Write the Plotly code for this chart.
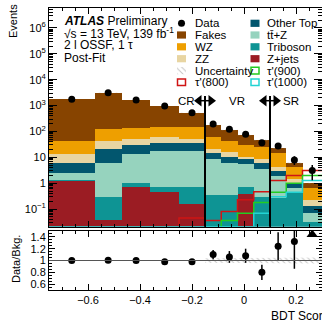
import plotly.graph_objects as go

# ---------------- data ----------------
edges = [-0.75, -0.575, -0.47, -0.36, -0.25, -0.15, -0.0875, -0.025, 0.0375, 0.1, 0.1625, 0.225, 0.30]

zjets     = [1.26, 0.038, 0.70, 0.47, 0.16, 0.005, 0.005, 0.40, 0.010, 0.005, 0.005, 0.005]
triboson  = [0.04, 0.262, 0.30, 0.27, 0.58, 0.345, 0.345, 0.34, 0.29, 0.265, 0.425, 0.028]
ttz       = [1.13, 5.6, 12.5, 17.3, 17.3, 8.15, 5.85, 4.66, 3.2, 1.63, 0.21, 0.036]
other_top = [3.47, 14.7, 15.9, 17.0, 17.0, 5.9, 4.5, 3.1, 2.4, 1.2, 0.41, 0.061]
zz        = [7.6, 22.4, 23.6, 25.0, 15.0, 6.2, 5.0, 2.2, 2.6, 1.3, 0.38, 0.10]
wz        = [29.5, 78, 88, 94, 95, 42.4, 28.3, 19.3, 17.5, 10.0, 2.97, 0.41]
fakes     = [1707, 3029, 1509, 806, 385, 115, 70, 42, 20, 7.6, 1.6, 0.36]

data        = [1750, 3150, 1650, 960, 530, 195, 121, 78, 37, 27.5, 7.9, 3.1]
data_err_up = [42, 56, 41, 31, 23, 14, 11, 8.8, 6.1, 5.2, 3.0, 2.0]
data_err_dn = [42, 56, 41, 31, 23, 14, 11, 8.8, 6.1, 5.2, 2.8, 1.8]

tau800  = [0.001, 0.001, 0.001, 0.001, 0.045, 0.036, 0.08, 0.23, 0.47, 1.26, 1.97, 3.1]
tau900  = [0.001, 0.001, 0.001, 0.001, 0.001, 0.001, 0.036, 0.069, 0.18, 0.45, 1.0, 1.97]
tau1000 = [0.021, 0.021, 0.021, 0.021, 0.021, 0.021, 0.021, 0.021, 0.069, 0.30, 0.45, 1.26]

ratio     = [1.0, 1.005, 1.0, 0.98, 0.98, 1.10, 1.06, 1.08, 0.80, 1.24, 1.32, 3.1]
ratio_err = [0.02, 0.02, 0.02, 0.03, 0.04, 0.08, 0.10, 0.12, 0.13, 0.24, 0.46, 0.0]
unc_rel   = [0.005, 0.005, 0.005, 0.005, 0.01, 0.04, 0.04, 0.04, 0.04, 0.05, 0.05, 0.05]

bkg_names  = ["Z+jets", "Triboson", "tt\u0304+Z", "Other Top", "ZZ", "WZ", "Fakes"]
bkg_values = [zjets, triboson, ttz, other_top, zz, wz, fakes]
bkg_colors = ["#9B1C23", "#0E9494", "#96D3BE", "#02566E", "#E8D5A2", "#EE9F00", "#874400"]

sig_names  = ["\u03c4'(800)", "\u03c4'(900)", "\u03c4'(1000)"]
sig_values = [tau800, tau900, tau1000]
sig_colors = ["#D01515", "#22CC22", "#22D3D3"]

x_ticks = [-0.6, -0.4, -0.2, 0, 0.2]
y_tick_vals = [0.1, 1, 10, 100, 1e3, 1e4, 1e5, 1e6]
y_tick_text = ["10<sup>\u22121</sup>", "1", "10", "10<sup>2</sup>", "10<sup>3</sup>",
               "10<sup>4</sup>", "10<sup>5</sup>", "10<sup>6</sup>"]
r_tick_vals = [0.6, 0.8, 1.0, 1.2, 1.4]
r_tick_text = ["0.6", "0.8", "1", "1.2", "1.4"]

boundaries = [-0.15, 0.1]
region_labels = ["CR", "VR", "SR"]

# ---------------- layout geometry ----------------
W, H = 322, 321
ML, MR, MT, MB = 49, 0, 8, 31
PW, PH = W - ML - MR, H - MT - MB
XR = [-0.75, 0.30]
YLOG = [-1.68, 6.77]
RR = [0.5, 1.5]
TOP_BOTTOM_PX = 226.7
RAT_TOP_PX = 231.0
top_dom = [(H - MB - TOP_BOTTOM_PX) / PH, 1.0]
rat_dom = [0.0, (H - MB - RAT_TOP_PX) / PH]
TOP_H = TOP_BOTTOM_PX - MT

def PX(px):
    return (px - ML) / PW

def PY(py):
    return (H - MB - py) / PH

FONT = "Liberation Sans, Arial, Helvetica, sans-serif"

centers = [(edges[i] + edges[i + 1]) / 2 for i in range(len(edges) - 1)]
widths = [edges[i + 1] - edges[i] for i in range(len(edges) - 1)]
total = [sum(v[i] for v in bkg_values) for i in range(len(centers))]

fig = go.Figure()

# stacked backgrounds
for name, vals, col in zip(bkg_names, bkg_values, bkg_colors):
    fig.add_trace(go.Bar(x=centers, y=vals, width=widths, name=name,
                         marker=dict(color=col, line=dict(width=0)),
                         xaxis="x", yaxis="y", showlegend=False))

def step_poly(lo, hi):
    xs, ys = [], []
    for i in range(len(centers)):
        xs += [edges[i], edges[i + 1]]
        ys += [hi[i], hi[i]]
    for i in reversed(range(len(centers))):
        xs += [edges[i + 1], edges[i]]
        ys += [lo[i], lo[i]]
    xs.append(xs[0]); ys.append(ys[0])
    return xs, ys

hatch = dict(shape="\\", fgcolor="#8a8a8a", bgcolor="rgba(0,0,0,0)", size=4, solidity=0.25)
ux, uy = step_poly([t * (1 - u) for t, u in zip(total, unc_rel)],
                   [t * (1 + u) for t, u in zip(total, unc_rel)])
fig.add_trace(go.Scatter(x=ux, y=uy, fill="toself", mode="lines", line=dict(width=0),
                         fillcolor="rgba(0,0,0,0)", fillpattern=hatch,
                         xaxis="x", yaxis="y", showlegend=False, hoverinfo="skip"))

# signals
for name, vals, col in zip(sig_names, sig_values, sig_colors):
    fig.add_trace(go.Scatter(x=edges, y=vals + [vals[-1]], mode="lines",
                             line=dict(shape="hv", color=col, width=1.5),
                             xaxis="x", yaxis="y", showlegend=False))

# data
fig.add_trace(go.Scatter(x=centers, y=data, mode="markers",
                         marker=dict(color="black", size=7),
                         error_y=dict(type="data", array=data_err_up, arrayminus=data_err_dn,
                                      color="black", thickness=1.5, width=0),
                         xaxis="x", yaxis="y", showlegend=False))

# ratio band
rx, ry = step_poly([1 - u for u in unc_rel], [1 + u for u in unc_rel])
fig.add_trace(go.Scatter(x=rx, y=ry, fill="toself", mode="lines", line=dict(width=0),
                         fillcolor="rgba(0,0,0,0)", fillpattern=hatch,
                         xaxis="x2", yaxis="y2", showlegend=False, hoverinfo="skip"))

in_c = [c for c, r in zip(centers, ratio) if r <= RR[1]]
in_r = [r for r in ratio if r <= RR[1]]
in_e = [e for e, r in zip(ratio_err, ratio) if r <= RR[1]]
fig.add_trace(go.Scatter(x=in_c, y=in_r, mode="markers",
                         marker=dict(color="black", size=7),
                         error_y=dict(type="data", array=in_e, color="black", thickness=1.5, width=0),
                         xaxis="x2", yaxis="y2", showlegend=False, cliponaxis=True))
out_c = [c for c, r in zip(centers, ratio) if r > RR[1]]
fig.add_trace(go.Scatter(x=out_c, y=[RR[1] - 0.06] * len(out_c), mode="markers",
                         marker=dict(color="black", size=10, symbol="triangle-up"),
                         xaxis="x2", yaxis="y2", showlegend=False))

# region arrows
arrow_frac = (TOP_BOTTOM_PX - 100.7) / TOP_H
arrow_y = 10 ** (YLOG[0] + arrow_frac * (YLOG[1] - YLOG[0]))
px_per_x = PW / (XR[1] - XR[0])
for b in boundaries:
    fig.add_trace(go.Scatter(x=[b - 6 / px_per_x], y=[arrow_y], mode="markers",
                             marker=dict(symbol="triangle-left", size=10, color="black"),
                             xaxis="x", yaxis="y", showlegend=False))
    fig.add_trace(go.Scatter(x=[b + 6 / px_per_x], y=[arrow_y], mode="markers",
                             marker=dict(symbol="triangle-right", size=10, color="black"),
                             xaxis="x", yaxis="y", showlegend=False))

shapes = []
for b in boundaries:
    shapes.append(dict(type="line", xref="x", yref="y domain", x0=b, x1=b, y0=0,
                       y1=(TOP_BOTTOM_PX - 96) / TOP_H, line=dict(color="black", width=2)))
    shapes.append(dict(type="line", xref="x", yref="y domain", x0=b - 8 / px_per_x,
                       x1=b + 8 / px_per_x, y0=arrow_frac, y1=arrow_frac,
                       line=dict(color="black", width=1.5)))
shapes.append(dict(type="line", xref="x2", yref="y2", x0=XR[0], x1=XR[1], y0=1, y1=1,
                   line=dict(color="#555555", width=1)))

annotations = []
label_px = [186, 236.5, 290.5]
for lp, lab in zip(label_px, region_labels):
    annotations.append(dict(x=PX(lp), y=PY(100.7), xref="paper", yref="paper", text=lab,
                            showarrow=False, font=dict(size=11.5, family=FONT, color="black"),
                            xanchor="center", yanchor="middle"))

# ATLAS labels
atlas_lines = ["<b><i>ATLAS</i></b> Preliminary", "\u221as = 13 TeV, 139 fb<sup>-1</sup>",
               "2 l OSSF, 1 \u03c4", "Post-Fit"]
for i, t in enumerate(atlas_lines):
    annotations.append(dict(x=PX(62), y=PY(20.7 + 12.3 * i), xref="paper", yref="paper", text=t,
                            showarrow=False, xanchor="left", yanchor="middle",
                            font=dict(size=12, family=FONT, color="black")))

# legend (manual, two columns)
leg_col1 = [("Data", "data", None), ("Fakes", "box", bkg_colors[6]), ("WZ", "box", bkg_colors[5]),
            ("ZZ", "box", bkg_colors[4]), ("Uncertainty", "hatch", None),
            (sig_names[0], "line", sig_colors[0])]
leg_col2 = [("Other Top", "box", bkg_colors[3]), ("t\u0074\u0304+Z", "box", bkg_colors[2]),
            ("Triboson", "box", bkg_colors[1]), ("Z+jets", "box", bkg_colors[0]),
            (sig_names[1], "line", sig_colors[1]), (sig_names[2], "line", sig_colors[2])]
row_y = [23.3, 35.0, 46.8, 58.7, 70.6, 82.2]
for (col_items, bx0, tx) in [(leg_col1, 177, 192.5), (leg_col2, 250.5, 265)]:
    for (label, kind, col), ry_ in zip(col_items, row_y):
        if kind == "data":
            fig.add_trace(go.Scatter(x=[PX(bx0 + 4.5)], y=[(TOP_BOTTOM_PX - ry_) / TOP_H], mode="markers",
                                     marker=dict(color="black", size=7),
                                     xaxis="x3", yaxis="y3", showlegend=False))
        elif kind == "box":
            shapes.append(dict(type="rect", xref="paper", yref="paper", x0=PX(bx0), x1=PX(bx0 + 9),
                               y0=PY(ry_ + 3.6), y1=PY(ry_ - 3.6), fillcolor=col, line=dict(width=0)))
        elif kind == "line":
            shapes.append(dict(type="rect", xref="paper", yref="paper", x0=PX(bx0 + 0.5), x1=PX(bx0 + 8.5),
                               y0=PY(ry_ + 3.3), y1=PY(ry_ - 3.3), fillcolor="white",
                               line=dict(width=1.5, color=col)))
        elif kind == "hatch":
            hx0, hx1 = PX(bx0), PX(bx0 + 9)
            hy0, hy1 = (TOP_BOTTOM_PX - ry_ - 3.6) / TOP_H, (TOP_BOTTOM_PX - ry_ + 3.6) / TOP_H
            fig.add_trace(go.Scatter(x=[hx0, hx1, hx1, hx0, hx0], y=[hy0, hy0, hy1, hy1, hy0],
                                     fill="toself", mode="lines", line=dict(width=0),
                                     fillcolor="rgba(0,0,0,0)", fillpattern=hatch,
                                     xaxis="x3", yaxis="y3", showlegend=False, hoverinfo="skip"))
        annotations.append(dict(x=PX(tx), y=PY(ry_), xref="paper", yref="paper", text=label,
                                showarrow=False, xanchor="left", yanchor="middle",
                                font=dict(size=11.5, family=FONT, color="black")))

# axis titles
annotations.append(dict(x=PX(13), y=PY(21), xref="paper", yref="paper", text="Events", textangle=-90,
                        showarrow=False, xanchor="center", yanchor="middle",
                        font=dict(size=11, family=FONT, color="black")))
annotations.append(dict(x=PX(16), y=PY(259), xref="paper", yref="paper", text="Data/Bkg.", textangle=-90,
                        showarrow=False, xanchor="center", yanchor="middle",
                        font=dict(size=11, family=FONT, color="black")))
annotations.append(dict(x=PX(269), y=PY(316), xref="paper", yref="paper", text="BDT Score",
                        showarrow=False, xanchor="left", yanchor="middle",
                        font=dict(size=12, family=FONT, color="black")))

axis_common = dict(showline=True, linecolor="black", linewidth=1, mirror="ticks", ticks="inside",
                   showgrid=False, zeroline=False, tickcolor="black",
                   tickfont=dict(size=11, family=FONT, color="black"))

fig.update_layout(
    width=W, height=H, margin=dict(l=ML, r=MR, t=MT, b=MB, pad=0),
    paper_bgcolor="white", plot_bgcolor="rgba(0,0,0,0)",
    barmode="stack", bargap=0, showlegend=False, hovermode=False,
    font=dict(family=FONT, color="black"),
    xaxis=dict(domain=[0, 1], anchor="y", range=XR, matches="x2", showticklabels=False,
               tickvals=x_ticks, ticklen=6,
               minor=dict(ticks="inside", dtick=0.05, ticklen=3, tickcolor="black", showgrid=False),
               **axis_common),
    yaxis=dict(domain=top_dom, anchor="x", type="log", range=YLOG, tickvals=y_tick_vals,
               ticktext=y_tick_text, ticklen=8,
               minor=dict(ticks="inside", dtick="D1", ticklen=4, tickcolor="black", showgrid=False),
               **axis_common),
    xaxis2=dict(domain=[0, 1], anchor="y2", range=XR, tickvals=x_ticks, ticklen=6,
                ticktext=["\u22120.6", "\u22120.4", "\u22120.2", "0", "0.2"],
                minor=dict(ticks="inside", dtick=0.05, ticklen=3, tickcolor="black", showgrid=False),
                **axis_common),
    yaxis2=dict(domain=rat_dom, anchor="x2", range=RR, tickvals=r_tick_vals, ticktext=r_tick_text,
                ticklen=6,
                minor=dict(ticks="inside", dtick=0.05, ticklen=3, tickcolor="black", showgrid=False),
                **axis_common),
    xaxis3=dict(overlaying="x", range=[0, 1], visible=False, anchor="y3"),
    yaxis3=dict(overlaying="y", range=[0, 1], visible=False, anchor="x3"),
    shapes=shapes, annotations=annotations,
)

# the page's default 8px body margin would shift the figure; remove it
fig.write_html("out.html", config={"displayModeBar": False, "staticPlot": True},
               post_script="document.body.style.margin='0px';")
